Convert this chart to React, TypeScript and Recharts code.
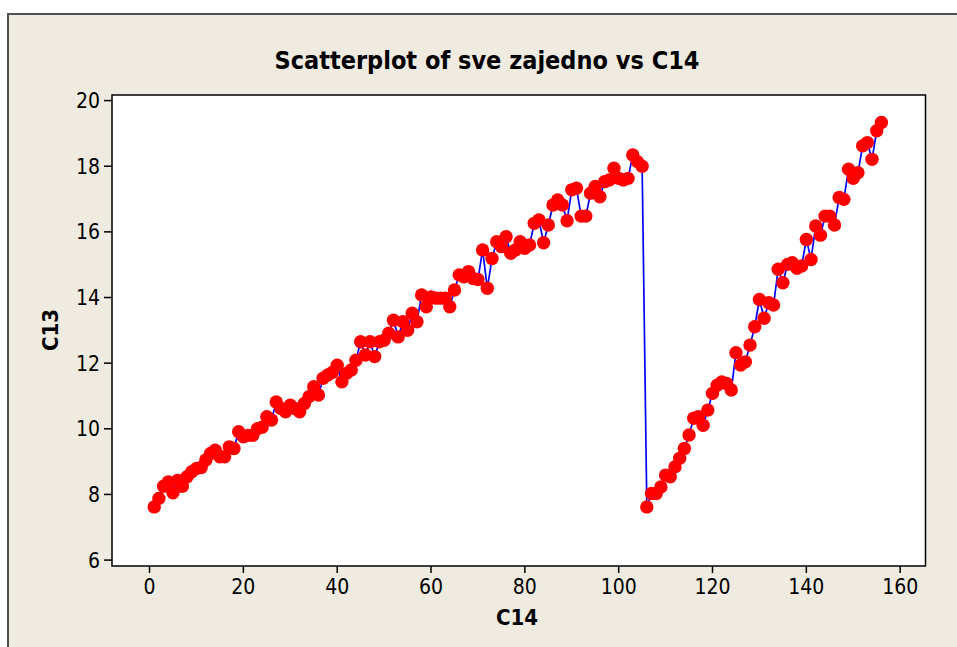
import { LineChart, Line, XAxis, YAxis, ReferenceArea } from 'recharts';

// C13 values for C14 = 1..156
const c13 = [
  7.62, 7.88, 8.25, 8.38, 8.05, 8.43, 8.25, 8.54, 8.69, 8.79,
  8.82, 9.05, 9.25, 9.35, 9.15, 9.15, 9.45, 9.4, 9.91, 9.76,
  9.8, 9.8, 10.0, 10.05, 10.37, 10.27, 10.82, 10.62, 10.52, 10.72,
  10.62, 10.52, 10.77, 10.98, 11.28, 11.03, 11.54, 11.64, 11.72, 11.94,
  11.43, 11.69, 11.79, 12.09, 12.65, 12.25, 12.65, 12.2, 12.65, 12.7,
  12.91, 13.31, 12.8, 13.26, 13.0, 13.52, 13.26, 14.08, 13.72, 14.02,
  13.98, 13.98, 13.98, 13.72, 14.23, 14.69, 14.63, 14.79, 14.58, 14.55,
  15.45, 14.28, 15.19, 15.7, 15.55, 15.85, 15.35, 15.45, 15.7, 15.5,
  15.6, 16.26, 16.36, 15.67, 16.21, 16.82, 16.97, 16.82, 16.34, 17.28,
  17.33, 16.48, 16.48, 17.18, 17.38, 17.07, 17.53, 17.58, 17.94, 17.63,
  17.58, 17.63, 18.34, 18.14, 18.0, 7.62, 8.03, 8.03, 8.23, 8.59,
  8.54, 8.84, 9.1, 9.4, 9.81, 10.32, 10.37, 10.11, 10.57, 11.08,
  11.33, 11.43, 11.38, 11.18, 12.32, 11.94, 12.04, 12.55, 13.11, 13.94,
  13.37, 13.84, 13.77, 14.86, 14.45, 15.01, 15.06, 14.89, 14.96, 15.77,
  15.16, 16.18, 15.9, 16.48, 16.48, 16.21, 17.05, 16.99, 17.91, 17.63,
  17.8, 18.62, 18.72, 18.21, 19.08, 19.33,
];

const xTicks = [0, 20, 40, 60, 80, 100, 120, 140, 160];
const yTicks = [6, 8, 10, 12, 14, 16, 18, 20];

const data = c13.map((v, i) => ({ c14: i + 1, c13: v }));

const font = "'DejaVu Sans Condensed', 'DejaVu Sans', sans-serif";
const tickStyle = { fill: '#000', fontSize: 21, fontFamily: font, fontStretch: 'condensed' as const };

export default function App() {
  return (
    <div style={{ position: 'absolute', left: 0, top: 0, width: 957, height: 647, background: '#fff', overflow: 'hidden' }}>
      <div
        style={{
          position: 'absolute',
          left: 7,
          top: 13,
          width: 960,
          height: 640,
          background: '#EFEBE1',
          borderTop: '2px solid #505050',
          borderLeft: '2px solid #505050',
        }}
      />
      <LineChart
        width={957}
        height={647}
        data={data}
        margin={{ top: 95, right: 31.5, bottom: 0, left: 0 }}
        style={{ position: 'absolute', left: 0, top: 0 }}
      >
        <XAxis
          dataKey="c14"
          type="number"
          domain={[-8, 165.4]}
          ticks={xTicks}
          allowDataOverflow
          height={81}
          axisLine={false}
          tickLine={{ stroke: '#000', strokeWidth: 1.5 }}
          tickSize={7}
          tickMargin={6}
          tick={tickStyle}
        />
        <YAxis
          dataKey="c13"
          type="number"
          domain={[5.82, 20.17]}
          ticks={yTicks}
          allowDataOverflow
          width={112}
          axisLine={false}
          tickLine={{ stroke: '#000', strokeWidth: 1.5 }}
          tickSize={8}
          tickMargin={4}
          tick={tickStyle}
        />
        <ReferenceArea
          x1={-8}
          x2={165.4}
          y1={5.82}
          y2={20.17}
          fill="#fff"
          fillOpacity={1}
          stroke="#000"
          strokeWidth={1.5}
        />
        <Line
          dataKey="c13"
          type="linear"
          stroke="#0000FF"
          strokeWidth={1.7}
          dot={{ r: 6.7, fill: '#FF0000', stroke: '#FF0000', strokeWidth: 0 }}
          activeDot={false}
          isAnimationActive={false}
        />
      </LineChart>
      <svg width={957} height={647} style={{ position: 'absolute', left: 0, top: 0, pointerEvents: 'none' }}>
        <text x={487} y={69} textAnchor="middle" fontFamily={font} fontStretch="condensed" fontWeight="bold" fontSize={25} fill="#000">
          Scatterplot of sve zajedno vs C14
        </text>
        <text x={517} y={625} textAnchor="middle" fontFamily={font} fontStretch="condensed" fontWeight="bold" fontSize={22} fill="#000">
          C14
        </text>
        <text
          x={58}
          y={330}
          transform="rotate(-90 58 330)"
          textAnchor="middle"
          fontFamily={font}
          fontStretch="condensed"
          fontWeight="bold"
          fontSize={22}
          fill="#000"
        >
          C13
        </text>
      </svg>
    </div>
  );
}
